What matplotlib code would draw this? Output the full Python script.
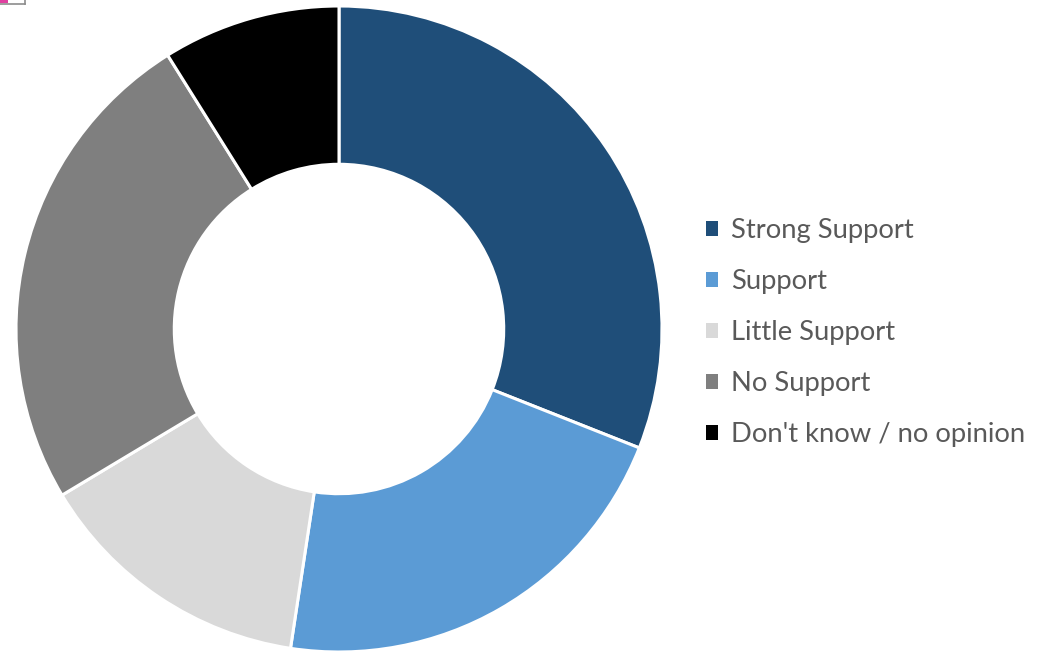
import matplotlib.pyplot as plt
from matplotlib.patches import Rectangle

labels = ['Strong Support', 'Support', 'Little Support', 'No Support', "Don't know / no opinion"]
values = [31.0, 21.4, 14.0, 24.7, 8.9]
colors = ['#1F4E79', '#5B9BD5', '#D9D9D9', '#7F7F7F', '#000000']

W, H = 1051, 657
fig = plt.figure(figsize=(W / 100, H / 100), dpi=100)

# donut: centre (339, 329) px, outer radius 323 px
cx, cy, r = 339, 329, 323
ax = fig.add_axes([(cx - r) / W, (H - cy - r) / H, 2 * r / W, 2 * r / H])
wedges, _ = ax.pie(values, colors=colors, startangle=90, counterclock=False,
                   radius=1, wedgeprops=dict(width=0.49, edgecolor='white', linewidth=2.2))
ax.set_xlim(-1, 1)
ax.set_ylim(-1, 1)
ax.set_aspect('equal')
ax.axis('off')

handles = [Rectangle((0, 0), 1, 1, facecolor=c, edgecolor='none') for c in colors]
leg = fig.legend(handles, labels, loc='upper left', bbox_to_anchor=(706 / W, 1 - 218 / H),
                 frameon=False, borderpad=0, borderaxespad=0,
                 handlelength=0.45, handleheight=0.45, handletextpad=0.45,
                 labelspacing=0.95, prop=dict(family='Lato', size=19.7))
for t in leg.get_texts():
    t.set_color('#595959')

# small frame fragment in the corner
fig.add_artist(plt.Line2D([0, 25 / W], [1 - 4 / H, 1 - 4 / H], color='#8c8c8c', lw=1.2))
fig.add_artist(plt.Line2D([25 / W, 25 / W], [1 - 4 / H, 1], color='#8c8c8c', lw=1.2))
fig.add_artist(Rectangle((0, 1 - 3 / H), 8 / W, 3 / H, facecolor='#e040a0', edgecolor='none',
                         transform=fig.transFigure))

fig.savefig('out.png', dpi=100)
